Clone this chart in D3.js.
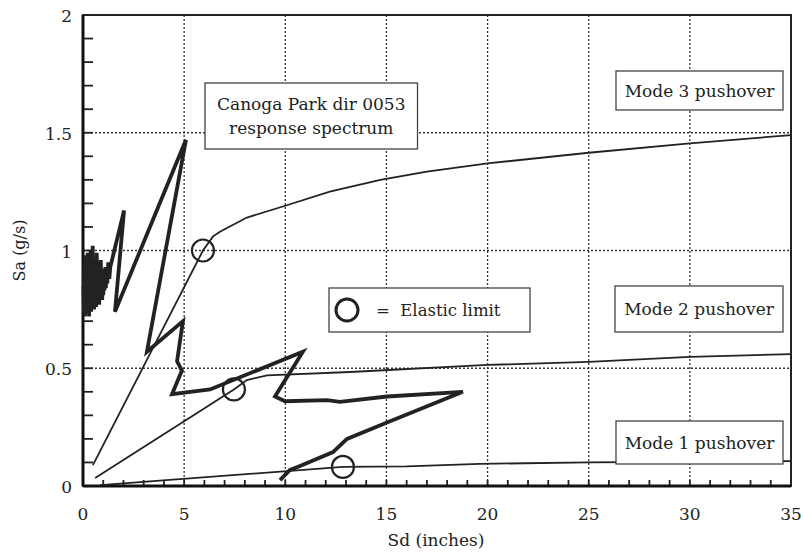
<!DOCTYPE html>
<meta charset="UTF-8">
<script src="https://d3js.org/d3.v7.min.js"></script>
<style>
  body { margin: 0; background: #fff; }
  text { font-family: "DejaVu Serif", "Liberation Serif", serif; fill: #222; }
</style>
<body>
<div id="chart"></div>
<script>

// response spectrum, Sd (in) vs Sa (g)
var specSd = [0.02, 0.05, 0.08, 0.1, 0.13, 0.15, 0.18, 0.2, 0.23, 0.25, 0.28, 0.3, 0.33, 0.35, 0.38, 0.4, 0.43, 0.45, 0.48, 0.5,
  0.53, 0.55, 0.58, 0.6, 0.63, 0.65, 0.68, 0.7, 0.73, 0.75, 0.78, 0.8, 0.83, 0.85, 0.88, 0.9, 0.93, 0.95, 0.98, 1.0,
  1.03, 1.06, 1.1, 1.13, 1.17, 1.2, 1.25, 1.3, 1.35,
  2.03, 1.58, 5.09, 3.16, 4.94, 4.65, 4.89, 4.40, 6.28, 10.87, 9.49, 9.99, 12.06, 12.7, 15.03, 18.78, 15.03, 13.05, 12.36, 10.58, 10.23, 9.74];
var specSa = [0.85, 0.74, 0.95, 0.72, 0.98, 0.76, 0.93, 0.73, 0.99, 0.75, 0.90, 0.72, 0.96, 0.77, 1.0, 0.74, 0.94, 0.76, 1.02, 0.78,
  0.92, 0.75, 0.97, 0.78, 0.93, 0.76, 0.99, 0.80, 0.91, 0.79, 0.95, 0.77, 0.90, 0.80, 0.96, 0.82, 0.90, 0.79, 0.92, 0.81,
  0.89, 0.83, 0.93, 0.84, 0.92, 0.86, 0.95, 0.88, 0.93,
  1.17, 0.74, 1.47, 0.57, 0.70, 0.53, 0.49, 0.39, 0.41, 0.57, 0.38, 0.36, 0.365, 0.357, 0.38, 0.40, 0.27, 0.20, 0.144, 0.08, 0.068, 0.025];

// pushover curves
var mode1Sd = [0.84, 12.85, 16, 19.6, 25, 30, 35];
var mode1Sa = [0.004, 0.081, 0.083, 0.094, 0.10, 0.103, 0.106];
var mode2Sd = [0.6, 7.46, 8.1, 9.1, 13.2, 20, 25, 30, 35];
var mode2Sa = [0.034, 0.41, 0.45, 0.47, 0.484, 0.514, 0.527, 0.548, 0.56];
var mode3Sd = [0.49, 5.93, 6.43, 6.77, 8.1, 10, 12.2, 14.7, 17, 20, 25, 30, 35];
var mode3Sa = [0.089, 1.0, 1.06, 1.08, 1.14, 1.19, 1.25, 1.30, 1.335, 1.37, 1.415, 1.455, 1.49];

// elastic limit points
var limSd = [12.85, 7.46, 5.93];
var limSa = [0.081, 0.41, 1.0];

var xTicks = [0, 5, 10, 15, 20, 25, 30, 35];
var yTicks = [0, 0.5, 1, 1.5, 2];
var yTickLabels = ["0", "0.5", "1", "1.5", "2"];

var width = 803, height = 556;
var margin = {left: 83, top: 15, right: 12, bottom: 70};
var w = width - margin.left - margin.right;
var h = height - margin.top - margin.bottom;

var svg = d3.select("#chart").append("svg")
    .attr("width", width)
    .attr("height", height);

var g = svg.append("g")
    .attr("transform", "translate(" + margin.left + "," + margin.top + ")");

var x = d3.scaleLinear().domain([0, 35]).range([0, w]);
var y = d3.scaleLinear().domain([0, 2]).range([h, 0]);

// dotted grid
g.append("g").selectAll("line")
  .data(xTicks.slice(1, -1))
  .enter().append("line")
    .attr("x1", function(d) { return x(d); })
    .attr("x2", function(d) { return x(d); })
    .attr("y1", 0).attr("y2", h)
    .attr("stroke", "#333").attr("stroke-width", 1.3)
    .attr("stroke-dasharray", "2,2");

g.append("g").selectAll("line")
  .data(yTicks.slice(1, -1))
  .enter().append("line")
    .attr("y1", function(d) { return y(d); })
    .attr("y2", function(d) { return y(d); })
    .attr("x1", 0).attr("x2", w)
    .attr("stroke", "#333").attr("stroke-width", 1.3)
    .attr("stroke-dasharray", "2,2");

// minor ticks, pointing inward
g.append("g").selectAll("line")
  .data(d3.range(1, 35))
  .enter().append("line")
    .attr("x1", function(d) { return x(d); })
    .attr("x2", function(d) { return x(d); })
    .attr("y1", h).attr("y2", h - 6)
    .attr("stroke", "#222").attr("stroke-width", 1.8);

g.append("g").selectAll("line")
  .data(d3.range(1, 20).map(function(d) { return d / 10; }))
  .enter().append("line")
    .attr("y1", function(d) { return y(d); })
    .attr("y2", function(d) { return y(d); })
    .attr("x1", 0).attr("x2", 10)
    .attr("stroke", "#222").attr("stroke-width", 1.8);

// frame
g.append("rect")
    .attr("width", w).attr("height", h)
    .attr("fill", "none").attr("stroke", "#222").attr("stroke-width", 2);
g.append("line").attr("x1", 0).attr("x2", 0).attr("y1", 0).attr("y2", h)
    .attr("stroke", "#111").attr("stroke-width", 3);
g.append("line").attr("x1", 0).attr("x2", w).attr("y1", h).attr("y2", h)
    .attr("stroke", "#111").attr("stroke-width", 3);

// tick labels
g.append("g").selectAll("text")
  .data(xTicks)
  .enter().append("text")
    .attr("x", function(d) { return x(d); })
    .attr("y", h + 34)
    .attr("text-anchor", "middle")
    .style("font-size", "17px")
    .text(function(d) { return d; });

g.append("g").selectAll("text")
  .data(yTicks)
  .enter().append("text")
    .attr("x", -11)
    .attr("y", function(d) { return y(d) + 7; })
    .attr("text-anchor", "end")
    .style("font-size", "17px")
    .text(function(d, i) { return yTickLabels[i]; });

svg.append("text")
    .attr("x", 436)
    .attr("y", 546)
    .attr("text-anchor", "middle")
    .style("font-size", "17px")
    .text("Sd (inches)");

svg.append("text")
    .attr("transform", "translate(25," + (margin.top + y(1)) + ") rotate(-90)")
    .attr("text-anchor", "middle")
    .style("font-size", "16px")
    .text("Sa (g/s)");

var line = d3.line()
    .x(function(d) { return x(d[0]); })
    .y(function(d) { return y(d[1]); });

function pairs(a, b) { return a.map(function(v, i) { return [v, b[i]]; }); }

// pushover curves
[[mode1Sd, mode1Sa], [mode2Sd, mode2Sa], [mode3Sd, mode3Sa]].forEach(function(m) {
  g.append("path")
    .datum(pairs(m[0], m[1]))
    .attr("d", line)
    .attr("fill", "none")
    .attr("stroke", "#222")
    .attr("stroke-width", 1.8);
});

// spectrum
g.append("path")
    .datum(pairs(specSd, specSa))
    .attr("d", line)
    .attr("fill", "none")
    .attr("stroke", "#222")
    .attr("stroke-width", 3.8)
    .attr("stroke-linejoin", "miter");

// elastic limit circles
g.append("g").selectAll("circle")
  .data(pairs(limSd, limSa))
  .enter().append("circle")
    .attr("cx", function(d) { return x(d[0]); })
    .attr("cy", function(d) { return y(d[1]); })
    .attr("r", 11)
    .attr("fill", "none")
    .attr("stroke", "#222")
    .attr("stroke-width", 2.2);

// label boxes (pixel positions in svg); width follows the text when x1 is null
function box(x0, y0, x1, y1, lines, lh) {
  var r = svg.append("rect")
    .attr("x", x0).attr("y", y0)
    .attr("height", y1 - y0)
    .attr("fill", "#fff").attr("stroke", "#444").attr("stroke-width", 1.3);
  var texts = lines.map(function(t) {
    return svg.append("text")
      .attr("text-anchor", "middle")
      .style("font-size", "17px")
      .text(t);
  });
  if (x1 === null) {
    var tw = d3.max(texts, function(t) { return t.node().getComputedTextLength(); });
    x1 = x0 + tw + 24;
  }
  r.attr("width", x1 - x0);
  var cy = (y0 + y1) / 2 - (lines.length - 1) * lh / 2;
  texts.forEach(function(t, i) {
    t.attr("x", (x0 + x1) / 2).attr("y", cy + i * lh + 6);
  });
}

box(205, 83, null, 149, ["Canoga Park dir 0053", "response spectrum"], 24);
box(616, 71, 783, 110, ["Mode 3 pushover"], 0);
box(615, 286, 783, 332, ["Mode 2 pushover"], 0);
box(616, 421, 783, 464, ["Mode 1 pushover"], 0);

// legend for elastic limit
svg.append("rect")
    .attr("x", 329).attr("y", 288)
    .attr("width", 201).attr("height", 44)
    .attr("fill", "#fff").attr("stroke", "#444").attr("stroke-width", 1.3);
svg.append("circle")
    .attr("cx", 347).attr("cy", 310).attr("r", 11)
    .attr("fill", "none").attr("stroke", "#222").attr("stroke-width", 3);
svg.append("text")
    .attr("x", 376).attr("y", 316)
    .style("font-size", "16.5px")
    .style("white-space", "pre")
    .text("=  Elastic limit");

</script>
</body>
